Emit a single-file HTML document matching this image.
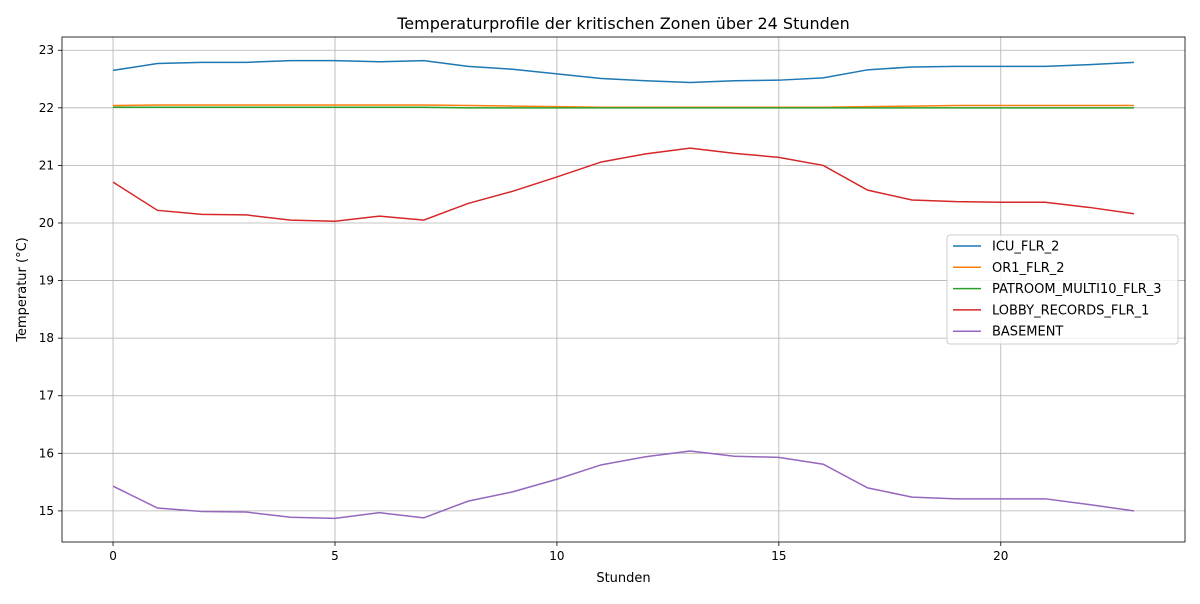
<!DOCTYPE html>
<html><head><meta charset="utf-8"><style>
body{margin:0;background:#fff;font-family:"DejaVu Sans","Liberation Sans",sans-serif;}
svg text{font-family:"DejaVu Sans","Liberation Sans",sans-serif;}
</style></head><body>
<svg id="chart" width="1200" height="600" xmlns="http://www.w3.org/2000/svg"></svg>
<script>
const hours = [0,1,2,3,4,5,6,7,8,9,10,11,12,13,14,15,16,17,18,19,20,21,22,23];
const seriesNames = ["ICU_FLR_2","OR1_FLR_2","PATROOM_MULTI10_FLR_3","LOBBY_RECORDS_FLR_1","BASEMENT"];
const icu = [22.65,22.77,22.79,22.79,22.82,22.82,22.80,22.82,22.72,22.67,22.59,22.51,22.47,22.44,22.47,22.48,22.52,22.66,22.71,22.72,22.72,22.72,22.75,22.79];
const or1 = [22.04,22.05,22.05,22.05,22.05,22.05,22.05,22.05,22.04,22.03,22.02,22.01,22.01,22.01,22.01,22.01,22.01,22.02,22.03,22.04,22.04,22.04,22.04,22.04];
const patroom = [22.01,22.01,22.01,22.01,22.01,22.01,22.01,22.01,22.00,22.00,22.00,22.00,22.00,22.00,22.00,22.00,22.00,22.00,22.00,22.00,22.00,22.00,22.00,22.00];
const lobby = [20.71,20.22,20.15,20.14,20.05,20.03,20.12,20.05,20.34,20.55,20.80,21.06,21.20,21.30,21.21,21.14,21.00,20.57,20.40,20.37,20.36,20.36,20.27,20.16];
const basement = [15.43,15.05,14.99,14.98,14.89,14.87,14.97,14.88,15.17,15.33,15.55,15.80,15.94,16.04,15.95,15.93,15.81,15.40,15.24,15.21,15.21,15.21,15.11,15.00];
const xTicks = [0,5,10,15,20];
const yTicks = [15,16,17,18,19,20,21,22,23];
const colors = ["#1f77b4","#ff7f0e","#2ca02c","#d62728","#9467bd"];
const allSeries = [icu,or1,patroom,lobby,basement];

const L=62,R=1185,T=37,B=542;
const xMin=-1.15,xMax=24.15,yMin=14.46,yMax=23.23;
const sx=v=>L+(v-xMin)/(xMax-xMin)*(R-L);
const sy=v=>B-(v-yMin)/(yMax-yMin)*(B-T);
const svg=document.getElementById('chart');
const NS="http://www.w3.org/2000/svg";
function mk(tag,attrs,parent){const e=document.createElementNS(NS,tag);for(const k in attrs)e.setAttribute(k,attrs[k]);(parent||svg).appendChild(e);return e;}

xTicks.forEach(t=>{
  const g=mk('line',{x1:sx(t),x2:sx(t),y1:T,y2:B,stroke:'#b0b0b0','stroke-width':0.8});
  
  
  mk('line',{x1:sx(t),x2:sx(t),y1:B,y2:B+4,stroke:'#000','stroke-width':0.8});
  const tx=mk('text',{x:sx(t),y:B+18,'font-size':12,'text-anchor':'middle'});tx.textContent=t;
  
  
});
yTicks.forEach(t=>{
  const g=mk('line',{x1:L,x2:R,y1:sy(t),y2:sy(t),stroke:'#b0b0b0','stroke-width':0.8});
  
  
  mk('line',{x1:L-4,x2:L,y1:sy(t),y2:sy(t),stroke:'#000','stroke-width':0.8});
  const tx=mk('text',{x:L-8,y:sy(t)+4,'font-size':12,'text-anchor':'end'});tx.textContent=t;
  
  
});
allSeries.forEach((s,i)=>{
  const p=mk('polyline',{points:s.map((v,j)=>sx(hours[j])+','+sy(v)).join(' '),fill:'none',stroke:colors[i],'stroke-width':1.5});
  
  
});
const fr=mk('rect',{x:L,y:T,width:R-L,height:B-T,fill:'none',stroke:'#000','stroke-width':0.8});


const title=mk('text',{x:(L+R)/2,y:29,'font-size':16,'text-anchor':'middle'});
title.textContent='Temperaturprofile der kritischen Zonen über 24 Stunden';


const xl=mk('text',{x:(L+R)/2,y:582,'font-size':13,'text-anchor':'middle'});
xl.textContent='Stunden';


const yl=mk('text',{x:26,y:(T+B)/2,'font-size':13,'text-anchor':'middle',transform:'rotate(-90 26 '+(T+B)/2+')'});
yl.textContent='Temperatur (°C)';


const lg=mk('g',{});


mk('rect',{x:947,y:235,width:231,height:109,rx:3,fill:'#fff','fill-opacity':0.8,stroke:'#ccc'},lg);
seriesNames.forEach((n,i)=>{
  const y=246+i*21.3;
  const e=mk('g',{},lg);
  
  
  mk('line',{x1:953,x2:981,y1:y,y2:y,stroke:colors[i],'stroke-width':1.5},e);
  const t=mk('text',{x:992,y:y+4.5,'font-size':13},e);t.textContent=n;
});
</script>
</body></html>
